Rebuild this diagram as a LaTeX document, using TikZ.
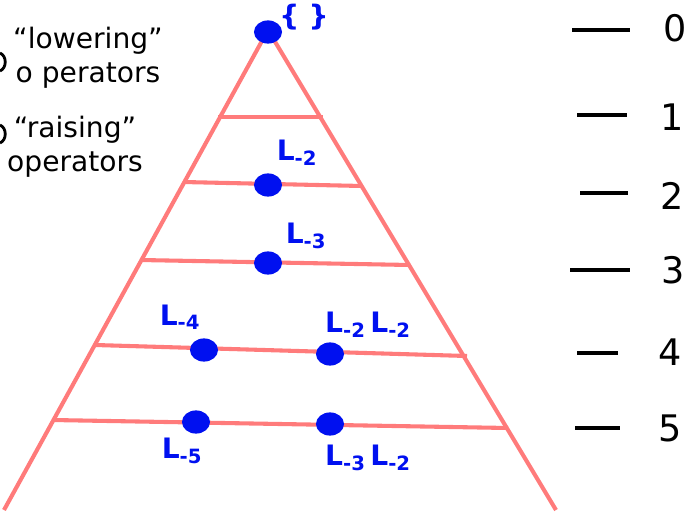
\documentclass[tikz,border=0pt]{standalone}
\usepackage{fontspec}
\setmainfont{DejaVu Sans}
\usetikzlibrary{positioning}
\definecolor{rung}{HTML}{FF7B7B}
\definecolor{dotblue}{HTML}{0010F0}
\tikzset{
  rungline/.style={draw=rung, line width=2.9pt},
  statedot/.style={fill=dotblue, ellipse, minimum width=7mm, minimum height=5.8mm, inner sep=0pt},
  oplabel/.style={text=dotblue, font=\fontsize{20}{21}\selectfont\bfseries},
  levelline/.style={line width=2.8pt},
  levellabel/.style={font=\fontsize{26}{28}\selectfont},
  handtext/.style={font=\fontsize{20}{24}\selectfont, align=center}
}
\usetikzlibrary{shapes.geometric}
\newcommand{\Lop}[1]{L\textsubscript{-#1}}
\begin{document}
\begin{tikzpicture}[x=0.025cm, y=-0.025cm]
  \useasboundingbox (0,0) rectangle (693,512);
  % triangle
  \draw[rungline] (4,510) -- (268,30) -- (556,510);
  \draw[rungline] (218,117) -- (323,117);
  \draw[rungline] (183,182) -- (362,186);
  \draw[rungline] (140,260) -- (410,265);
  \draw[rungline] (95,345) -- (467,356);
  \draw[rungline] (52,420) -- (508,428);
  % states
  \node[statedot] (vac) at (268,32) {};
  \node[statedot] (a2) at (268,185) {};
  \node[statedot] (a3) at (268,263) {};
  \node[statedot] (a4) at (204,350) {};
  \node[statedot] (b4) at (330,354) {};
  \node[statedot] (a5) at (196,422) {};
  \node[statedot] (b5) at (330,424) {};
  \node[oplabel] (lvac) at (304,17) {\{\,\,\}};
  \node[oplabel] (l2) at (297,153) {\Lop{2}};
  \node[oplabel] (l3) at (306,236) {\Lop{3}};
  \node[oplabel] (l4) at (180,317) {\Lop{4}};
  \node[oplabel] (l22) at (368,325) {\Lop{2}\,\Lop{2}};
  \node[oplabel] (l5) at (182,451) {\Lop{5}};
  \node[oplabel] (l32) at (368,458) {\Lop{3}\,\Lop{2}};
  % levels
  \draw[levelline] (572,30) -- (630,30);
  \draw[levelline] (577,115) -- (627,115);
  \draw[levelline] (580,193) -- (628,193);
  \draw[levelline] (570,270) -- (630,270);
  \draw[levelline] (577,353) -- (618,353);
  \draw[levelline] (575,428) -- (620,428);
  \node[levellabel] (n0) at (675,28) {0};
  \node[levellabel] (n1) at (672,117) {1};
  \node[levellabel] (n2) at (672,196) {2};
  \node[levellabel] (n3) at (673,270) {3};
  \node[levellabel] (n4) at (670,352) {4};
  \node[levellabel] (n5) at (670,428) {5};
  % left notes
  \node[handtext] (lower) at (88,58) {“lowering”\\o perators};
  \node[handtext] (raise) at (75,147) {“raising”\\operators};
  \draw[line width=2pt] (0,53) .. controls (7,56) and (7,68) .. (0,71);
  \draw[line width=2pt] (0,125) .. controls (7,128) and (7,140) .. (0,143);
\end{tikzpicture}
\end{document}
